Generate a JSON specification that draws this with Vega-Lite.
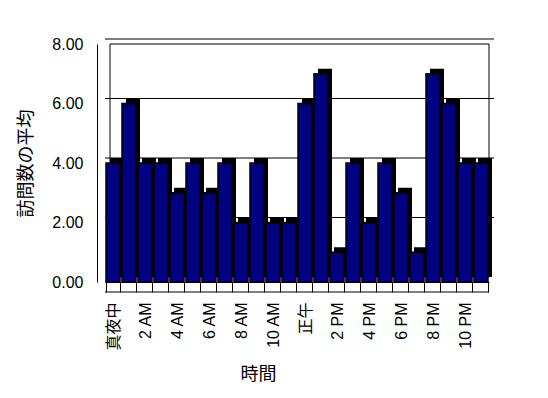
{
  "$schema": "https://vega.github.io/schema/vega-lite/v6.json",
  "width": 384,
  "height": 238,
  "autosize": {"type": "none"},
  "padding": {"left": 105, "top": 44, "right": 59, "bottom": 116},
  "background": "white",
  "config": {
    "view": {"stroke": null},
    "font": "Liberation Sans, Noto Sans CJK JP",
    "axis": {"labelColor": "black", "titleColor": "black", "titleFontWeight": "normal", "domainColor": "black", "tickColor": "black"}
  },
  "data": {
    "values": [
      {"hour": "真夜中", "visits": 4},
      {"hour": "1 AM", "visits": 6},
      {"hour": "2 AM", "visits": 4},
      {"hour": "3 AM", "visits": 4},
      {"hour": "4 AM", "visits": 3},
      {"hour": "5 AM", "visits": 4},
      {"hour": "6 AM", "visits": 3},
      {"hour": "7 AM", "visits": 4},
      {"hour": "8 AM", "visits": 2},
      {"hour": "9 AM", "visits": 4},
      {"hour": "10 AM", "visits": 2},
      {"hour": "11 AM", "visits": 2},
      {"hour": "正午", "visits": 6},
      {"hour": "1 PM", "visits": 7},
      {"hour": "2 PM", "visits": 1},
      {"hour": "3 PM", "visits": 4},
      {"hour": "4 PM", "visits": 2},
      {"hour": "5 PM", "visits": 4},
      {"hour": "6 PM", "visits": 3},
      {"hour": "7 PM", "visits": 1},
      {"hour": "8 PM", "visits": 7},
      {"hour": "9 PM", "visits": 6},
      {"hour": "10 PM", "visits": 4},
      {"hour": "11 PM", "visits": 4}
    ]
  },
  "layer": [
    {
      "data": {"values": [{}]},
      "mark": {"type": "rect", "fill": "white", "stroke": "black", "strokeWidth": 1, "xOffset": 5, "yOffset": -5},
      "encoding": {
        "x": {"value": 0},
        "x2": {"value": "width"},
        "y": {"datum": 0, "type": "quantitative", "scale": {"domain": [0, 8], "nice": false}},
        "y2": {"datum": 8}
      }
    },
    {
      "data": {"values": [{"v": 2}, {"v": 4}, {"v": 6}, {"v": 8}]},
      "mark": {"type": "rule", "color": "black", "strokeWidth": 1, "xOffset": 5, "yOffset": -5},
      "encoding": {
        "y": {"field": "v", "type": "quantitative"}
      }
    },
    {
      "data": {"values": [{}]},
      "mark": {"type": "rule", "color": "black", "strokeWidth": 1, "yOffset": 10},
      "encoding": {
        "y": {"datum": 0, "type": "quantitative"}
      }
    },
    {
      "mark": {"type": "bar", "fill": "black", "xOffset": 4, "yOffset": -5},
      "encoding": {
        "x": {"field": "hour", "type": "nominal", "sort": null, "scale": {"paddingInner": 0.125, "paddingOuter": 0.0625}},
        "y": {"field": "visits", "type": "quantitative"}
      }
    },
    {
      "mark": {"type": "bar", "fill": "#000080", "stroke": "black", "strokeWidth": 1.5},
      "encoding": {
        "x": {
          "field": "hour", "type": "nominal", "sort": null,
          "axis": {
            "title": "時間", "titleFontSize": 18, "titleX": 153, "titlePadding": 15,
            "labelAngle": 270, "labelAlign": "right", "labelBaseline": "middle", "labelFontSize": 16, "labelPadding": 10,
            "labelExpr": "test(/^(1|3|5|7|9|11) /, datum.value) ? '' : datum.label",
            "tickBand": "extent", "tickSize": 10, "labelOverlap": false
          }
        },
        "y": {
          "field": "visits", "type": "quantitative",
          "axis": {
            "title": "訪問数の平均", "titleFontSize": 18, "titlePadding": 16,
            "values": [0, 2, 4, 6, 8], "format": ".2f", "grid": false, "ticks": false,
            "offset": 8, "labelPadding": 14, "labelFontSize": 16
          }
        }
      }
    }
  ]
}
